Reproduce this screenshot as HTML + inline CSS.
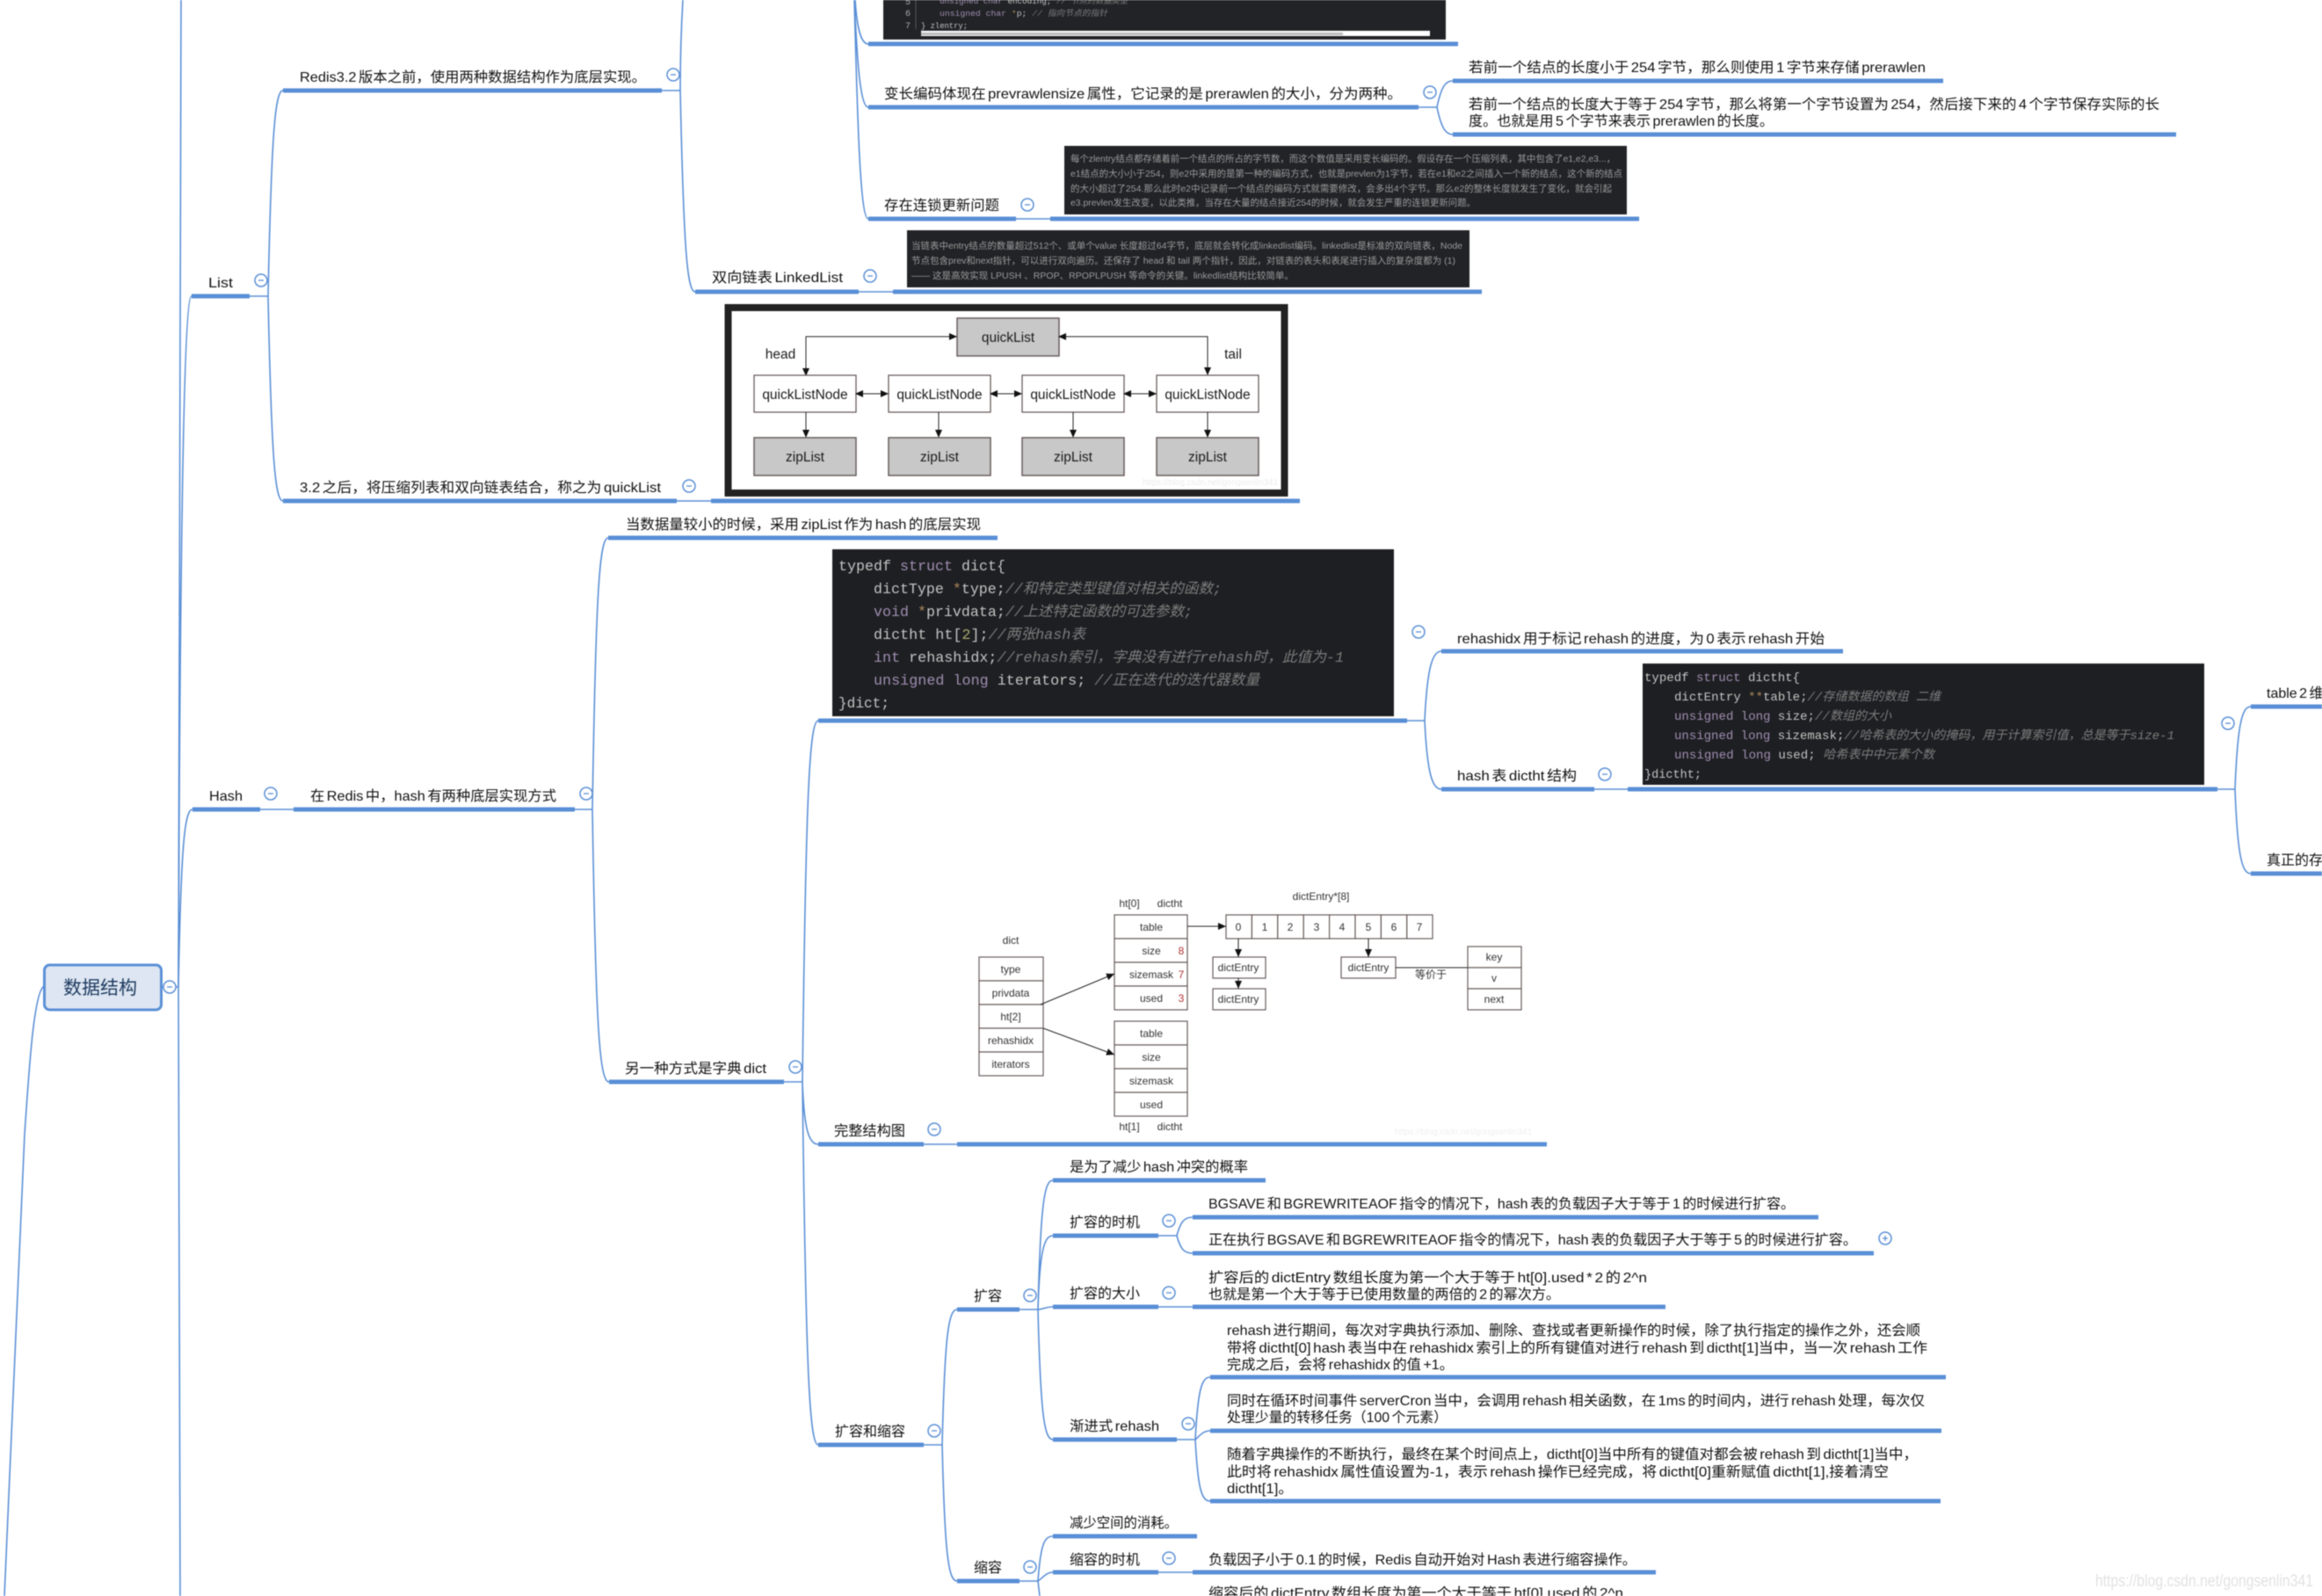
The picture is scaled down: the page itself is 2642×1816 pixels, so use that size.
<!DOCTYPE html>
<html>
<head>
<meta charset="utf-8">
<title>数据结构</title>
<style>
html,body{margin:0;padding:0;background:#fff;width:2642px;height:1816px;overflow:hidden}
svg{display:block;filter:blur(.5px)}
text{font-family:"Liberation Sans","Noto Sans CJK SC",sans-serif;fill:#111;font-size:16px;word-spacing:-2px}
.l{fill:none;stroke:#5a8fd6;stroke-width:1.6}
.b{fill:none;stroke:#5a8fd6;stroke-width:5}
.d{fill:#222326}
.s{font-size:10.5px;fill:#9b9b9b;word-spacing:0}
.m{font-family:"Liberation Mono","Noto Sans CJK SC",monospace;fill:#c4c4c4;font-size:16.5px;word-spacing:0}
.n{font-size:14px}
.k{fill:#a08eb2}
.c{fill:#7c7c7c;font-style:italic}
.o{fill:#a8875a}
.y{fill:#a9a96e}
.q{font-size:15.5px;fill:#1a1a1a;text-anchor:middle;word-spacing:0}
.e{font-size:12px;fill:#333;text-anchor:middle;word-spacing:0}
.r{fill:#c8c8c8;stroke:#6a5c5c;stroke-width:1.5}
.w{fill:#fff;stroke:#6a5c5c;stroke-width:1.3}
.a{fill:none;stroke:#222;stroke-width:1}
</style>
</head>
<body>
<svg width="2642" height="1816" viewBox="0 0 2642 1816" xmlns="http://www.w3.org/2000/svg">
<defs>
<g id="c"><circle r="7" fill="#fff" stroke="#5a8fd6" stroke-width="1.5"/><path d="M-3 0H3" stroke="#5a8fd6" stroke-width="1.3"/></g>
<g id="p"><circle r="7" fill="#fff" stroke="#5a8fd6" stroke-width="1.5"/><path d="M-3 0H3M0 -3V3" stroke="#5a8fd6" stroke-width="1.3"/></g>
<marker id="ar" markerUnits="userSpaceOnUse" markerWidth="10" markerHeight="8" refX="9" refY="4" orient="auto"><path d="M0 0L9 4L0 8Z" fill="#111"/></marker>
<marker id="as" markerUnits="userSpaceOnUse" markerWidth="10" markerHeight="8" refX="1" refY="4" orient="auto"><path d="M9 0L0 4L9 8Z" fill="#111"/></marker>
</defs>
<rect width="2642" height="1816" fill="#fff"/>

<!-- thin connectors -->
<path class="l" d="M184 1123H203M203 1123L206 0M203 1123L205 1816"/>
<path class="l" d="M203 1123C205 560 210 337 218 337M203 1123C206 962 210 921 219 921"/>
<path class="l" d="M50 1122C38 1130 33 1220 28 1290L5 1816"/>
<path class="l" d="M284 337H305M305 337C309 150 313 103 322 103M305 337C309 523 313 570 322 570"/>
<path class="l" d="M753 103H774M774 103Q774 50 777 0M774 103C778 286 782 332 791 332"/>
<path class="l" d="M973 0C975 30 979 50 988 50M972 0C975 60 978 122 988 122M972 0C976 150 979 249 988 249"/>
<path class="l" d="M1614 122H1635M1635 122C1640 98 1645 92 1653 92M1635 122C1640 146 1645 153 1653 153"/>
<path class="l" d="M1156 249H1195M977 332H1016M770 570H809M296 921H334"/>
<path class="l" d="M654 921H674M674 921C678 674 682 612 692 612M674 921C678 1169 682 1231 693 1231"/>
<path class="l" d="M892 1231H913M913 1231C917 902 921 820 931 820M913 1231C915 1288 921 1302 931 1302M913 1231C917 1561 921 1644 931 1644"/>
<path class="l" d="M1601 820H1621M1621 820C1624 758 1630 741 1640 741M1621 820C1624 882 1630 898 1640 898"/>
<path class="l" d="M1814 898H1852M2523 898H2543M2543 898C2546 823 2551 804 2561 804M2543 898C2546 975 2551 994 2561 994"/>
<path class="l" d="M1051 1302H1089"/>
<path class="l" d="M1051 1644H1072M1072 1644C1075 1521 1079 1490 1089 1490M1072 1644C1075 1768 1079 1799 1089 1799"/>
<path class="l" d="M1160 1490H1181M1181 1490C1184 1372 1188 1343 1198 1343M1181 1490C1183 1423 1188 1406 1198 1406M1181 1490C1186 1490 1190 1487 1198 1487M1181 1490C1184 1608 1188 1638 1198 1638"/>
<path class="l" d="M1318 1406H1339M1339 1406C1343 1391 1347 1385 1357 1385M1339 1406C1343 1421 1347 1426 1357 1426"/>
<path class="l" d="M1318 1487H1357"/>
<path class="l" d="M1339 1638H1360M1360 1638C1363 1582 1367 1567 1377 1567M1360 1638C1364 1635 1368 1628 1377 1628M1360 1638C1363 1694 1367 1708 1377 1708"/>
<path class="l" d="M1160 1799H1181M1181 1799C1184 1758 1188 1748 1198 1748M1181 1799C1186 1796 1190 1789 1198 1789M1181 1799L1183 1816"/>
<path class="l" d="M1318 1789H1357"/>

<!-- bars -->
<path class="b" d="M218 337H284M322 103H753M322 570H770M809 570H1479M791 332H977M1016 332H1686"/>
<path class="b" d="M988 50H1659M988 122H1614M988 249H1156M1195 249H1865M1653 92H2211M1653 153H2476"/>
<path class="b" d="M219 921H296M334 921H654M692 612H1135M693 1231H892M931 820H1601M931 1302H1051M1089 1302H1760M931 1644H1051"/>
<path class="b" d="M1640 741H2097M1640 898H1814M1852 898H2523M2561 804H2642M2561 994H2642"/>
<path class="b" d="M1089 1490H1160M1089 1799H1160M1198 1343H1440M1198 1406H1318M1198 1487H1318M1357 1487H1895M1198 1638H1339M1357 1385H2069M1357 1426H2132"/>
<path class="b" d="M1377 1567H2214M1377 1628H2209M1377 1708H2208M1198 1748H1362M1198 1789H1318M1357 1789H1884"/>

<!-- root -->
<rect x="50.5" y="1098" width="133" height="51" rx="6" fill="#dde6f2" stroke="#5a8fd6" stroke-width="3"/>
<text x="72" y="1131" style="font-size:21px;fill:#1d3a5f" textLength="84" lengthAdjust="spacingAndGlyphs">数据结构</text>

<!-- left column labels -->
<text x="237" y="327" textLength="28" lengthAdjust="spacingAndGlyphs">List</text>
<text x="238" y="911" textLength="38" lengthAdjust="spacingAndGlyphs">Hash</text>
<text x="341" y="93" textLength="394" lengthAdjust="spacingAndGlyphs">Redis3.2 版本之前，使用两种数据结构作为底层实现。</text>
<text x="341" y="560" textLength="411" lengthAdjust="spacingAndGlyphs">3.2 之后，将压缩列表和双向链表结合，称之为 quickList</text>
<text x="353" y="911" textLength="280" lengthAdjust="spacingAndGlyphs">在 Redis 中，hash 有两种底层实现方式</text>
<text x="810" y="321" textLength="149" lengthAdjust="spacingAndGlyphs">双向链表 LinkedList</text>
<text x="712" y="602" textLength="404" lengthAdjust="spacingAndGlyphs">当数据量较小的时候，采用 zipList 作为 hash 的底层实现</text>
<text x="711" y="1221" textLength="161" lengthAdjust="spacingAndGlyphs">另一种方式是字典 dict</text>

<!-- top code block -->
<rect class="d" x="1005" y="0" width="640" height="45"/>
<path d="M1042 0V33" stroke="#555" stroke-width="1"/>
<text x="1030" y="5" style="font-family:'Liberation Mono',monospace;font-size:10px;fill:#aaa">5</text>
<text x="1030" y="18" style="font-family:'Liberation Mono',monospace;font-size:10px;fill:#aaa">6</text>
<text x="1030" y="32" style="font-family:'Liberation Mono',monospace;font-size:10px;fill:#aaa">7</text>
<text class="m" x="1069" y="4" style="font-size:9.5px" textLength="214" lengthAdjust="spacingAndGlyphs"><tspan class="k">unsigned char</tspan> encoding; <tspan class="c">// 节点的数据类型</tspan></text>
<text class="m" x="1069" y="18" style="font-size:9.5px" textLength="191" lengthAdjust="spacingAndGlyphs"><tspan class="k">unsigned char</tspan> <tspan class="o">*</tspan>p;   <tspan class="c">// 指向节点的指针</tspan></text>
<text class="m" x="1048" y="32" style="font-size:9.5px" textLength="53" lengthAdjust="spacingAndGlyphs">} zlentry;</text>
<rect x="1048" y="35" width="579" height="6" fill="#fff"/>
<rect x="1048" y="37" width="480" height="3" fill="#bbb"/>

<!-- 变长编码 -->
<text x="1006" y="112" textLength="589" lengthAdjust="spacingAndGlyphs">变长编码体现在 prevrawlensize 属性，它记录的是 prerawlen 的大小，分为两种。</text>
<text x="1671" y="82" textLength="520" lengthAdjust="spacingAndGlyphs">若前一个结点的长度小于 254 字节，那么则使用 1 字节来存储 prerawlen</text>
<text x="1671" y="124" textLength="786" lengthAdjust="spacingAndGlyphs">若前一个结点的长度大于等于 254 字节，那么将第一个字节设置为 254，然后接下来的 4 个字节保存实际的长</text>
<text x="1671" y="143" textLength="347" lengthAdjust="spacingAndGlyphs">度。也就是用 5 个字节来表示 prerawlen 的长度。</text>
<text x="1006" y="239" textLength="131" lengthAdjust="spacingAndGlyphs">存在连锁更新问题</text>

<!-- chained update box -->
<rect class="d" x="1211" y="166" width="640" height="78"/>
<text class="s" x="1218" y="184" textLength="620" lengthAdjust="spacingAndGlyphs">每个zlentry结点都存储着前一个结点的所占的字节数，而这个数值是采用变长编码的。假设存在一个压缩列表，其中包含了e1,e2,e3...，</text>
<text class="s" x="1218" y="201" textLength="628" lengthAdjust="spacingAndGlyphs">e1结点的大小小于254，则e2中采用的是第一种的编码方式，也就是prevlen为1字节，若在e1和e2之间插入一个新的结点，这个新的结点</text>
<text class="s" x="1218" y="218" textLength="616" lengthAdjust="spacingAndGlyphs">的大小超过了254.那么此时e2中记录前一个结点的编码方式就需要修改，会多出4个字节。那么e2的整体长度就发生了变化，就会引起</text>
<text class="s" x="1218" y="234" textLength="461" lengthAdjust="spacingAndGlyphs">e3.prevlen发生改变，以此类推，当存在大量的结点接近254的时候，就会发生严重的连锁更新问题。</text>

<!-- linkedlist box -->
<rect class="d" x="1032" y="262" width="640" height="65"/>
<text class="s" x="1037" y="283" textLength="627" lengthAdjust="spacingAndGlyphs">当链表中entry结点的数量超过512个、或单个value 长度超过64字节，底层就会转化成linkedlist编码。linkedlist是标准的双向链表，Node</text>
<text class="s" x="1037" y="300" textLength="619" lengthAdjust="spacingAndGlyphs">节点包含prev和next指针，可以进行双向遍历。还保存了 head 和 tail 两个指针，因此，对链表的表头和表尾进行插入的复杂度都为 (1)</text>
<text class="s" x="1037" y="317" textLength="435" lengthAdjust="spacingAndGlyphs">—— 这是高效实现 LPUSH 、RPOP、RPOPLPUSH 等命令的关键。linkedlist结构比较简单。</text>

<!-- quicklist figure -->
<rect x="828.5" y="350" width="633" height="211" fill="#fff" stroke="#222" stroke-width="8"/>
<rect class="r" x="1089" y="362" width="116" height="43"/>
<text class="q" x="1147" y="389">quickList</text>
<path class="a" d="M917 427V383H1089" marker-start="url(#as)" marker-end="url(#ar)"/>
<path class="a" d="M1205 383H1374V427" marker-start="url(#as)" marker-end="url(#ar)"/>
<text class="q" x="888" y="408">head</text>
<text class="q" x="1403" y="408">tail</text>
<rect class="w" x="858" y="427" width="116" height="42"/>
<rect class="w" x="1011" y="427" width="116" height="42"/>
<rect class="w" x="1163" y="427" width="116" height="42"/>
<rect class="w" x="1316" y="427" width="116" height="42"/>
<text class="q" x="916" y="454">quickListNode</text>
<text class="q" x="1069" y="454">quickListNode</text>
<text class="q" x="1221" y="454">quickListNode</text>
<text class="q" x="1374" y="454">quickListNode</text>
<path class="a" d="M974 448H1011" marker-start="url(#as)" marker-end="url(#ar)"/>
<path class="a" d="M1127 448H1163" marker-start="url(#as)" marker-end="url(#ar)"/>
<path class="a" d="M1279 448H1316" marker-start="url(#as)" marker-end="url(#ar)"/>
<path class="a" d="M917 469V498" marker-end="url(#ar)"/>
<path class="a" d="M1068 469V498" marker-end="url(#ar)"/>
<path class="a" d="M1221 469V498" marker-end="url(#ar)"/>
<path class="a" d="M1374 469V498" marker-end="url(#ar)"/>
<rect class="r" x="858" y="498" width="116" height="43"/>
<rect class="r" x="1011" y="498" width="116" height="43"/>
<rect class="r" x="1163" y="498" width="116" height="43"/>
<rect class="r" x="1316" y="498" width="116" height="43"/>
<text class="q" x="916" y="525">zipList</text>
<text class="q" x="1069" y="525">zipList</text>
<text class="q" x="1221" y="525">zipList</text>
<text class="q" x="1374" y="525">zipList</text>
<text x="1300" y="552" style="font-size:10px;fill:#ececec;word-spacing:0" textLength="154" lengthAdjust="spacingAndGlyphs">https://blog.csdn.net/gongsenlin341</text>

<!-- dict code box -->
<rect x="947" y="625" width="639" height="190" fill="#1e1f22"/>
<text class="m" x="954" y="649" textLength="190" lengthAdjust="spacingAndGlyphs">typedf <tspan class="k">struct</tspan> dict{</text>
<text class="m" x="994" y="675" textLength="396" lengthAdjust="spacingAndGlyphs">dictType <tspan class="o">*</tspan>type;<tspan class="c">//和特定类型键值对相关的函数;</tspan></text>
<text class="m" x="994" y="701" textLength="363" lengthAdjust="spacingAndGlyphs"><tspan class="k">void</tspan> <tspan class="o">*</tspan>privdata;<tspan class="c">//上述特定函数的可选参数;</tspan></text>
<text class="m" x="994" y="727" textLength="241" lengthAdjust="spacingAndGlyphs">dictht ht[<tspan class="y">2</tspan>];<tspan class="c">//两张hash表</tspan></text>
<text class="m" x="994" y="753" textLength="535" lengthAdjust="spacingAndGlyphs"><tspan class="k">int</tspan> rehashidx;<tspan class="c">//rehash索引，字典没有进行rehash时，此值为-1</tspan></text>
<text class="m" x="994" y="779" textLength="439" lengthAdjust="spacingAndGlyphs"><tspan class="k">unsigned long</tspan> iterators; <tspan class="c">//正在迭代的迭代器数量</tspan></text>
<text class="m" x="954" y="805" textLength="58" lengthAdjust="spacingAndGlyphs">}dict;</text>

<text x="1658" y="732" textLength="418" lengthAdjust="spacingAndGlyphs">rehashidx 用于标记 rehash 的进度，为 0 表示 rehash 开始</text>
<text x="1658" y="888" textLength="136" lengthAdjust="spacingAndGlyphs">hash 表 dictht 结构</text>

<!-- dictht box -->
<rect x="1869" y="755" width="639" height="138" fill="#1e1f22"/>
<text class="m n" x="1871" y="775" textLength="177" lengthAdjust="spacingAndGlyphs">typedf <tspan class="k">struct</tspan> dictht{</text>
<text class="m n" x="1905" y="797" textLength="303" lengthAdjust="spacingAndGlyphs">dictEntry <tspan class="o">**</tspan>table;<tspan class="c">//存储数据的数组 二维</tspan></text>
<text class="m n" x="1905" y="819" textLength="247" lengthAdjust="spacingAndGlyphs"><tspan class="k">unsigned long</tspan> size;<tspan class="c">//数组的大小</tspan></text>
<text class="m n" x="1905" y="841" textLength="569" lengthAdjust="spacingAndGlyphs"><tspan class="k">unsigned long</tspan> sizemask;<tspan class="c">//哈希表的大小的掩码，用于计算索引值，总是等于size-1</tspan></text>
<text class="m n" x="1905" y="863" textLength="296" lengthAdjust="spacingAndGlyphs"><tspan class="k">unsigned long</tspan> used; <tspan class="c">哈希表中中元素个数</tspan></text>
<text class="m n" x="1871" y="885" textLength="65" lengthAdjust="spacingAndGlyphs">}dictht;</text>

<text x="2579" y="794">table 2 维数组</text>
<text x="2579" y="984">真正的存储数据</text>

<!-- dict figure -->
<text x="949" y="1292" textLength="81" lengthAdjust="spacingAndGlyphs">完整结构图</text>
<text class="e" x="1150" y="1074">dict</text>
<g fill="#fff" stroke="#6a5c5c" stroke-width="1.2">
<rect x="1114" y="1089" width="73" height="27"/><rect x="1114" y="1116" width="73" height="27"/><rect x="1114" y="1143" width="73" height="27"/><rect x="1114" y="1170" width="73" height="27"/><rect x="1114" y="1197" width="73" height="27"/>
<rect x="1268" y="1041" width="83" height="27"/><rect x="1268" y="1068" width="83" height="27"/><rect x="1268" y="1095" width="83" height="27"/><rect x="1268" y="1122" width="83" height="27"/>
<rect x="1268" y="1162" width="83" height="27"/><rect x="1268" y="1189" width="83" height="27"/><rect x="1268" y="1216" width="83" height="27"/><rect x="1268" y="1243" width="83" height="27"/>
<rect x="1395" y="1041" width="29.4" height="27"/><rect x="1424.4" y="1041" width="29.4" height="27"/><rect x="1453.8" y="1041" width="29.4" height="27"/><rect x="1483.2" y="1041" width="29.4" height="27"/><rect x="1512.6" y="1041" width="29.4" height="27"/><rect x="1542" y="1041" width="29.4" height="27"/><rect x="1571.4" y="1041" width="29.4" height="27"/><rect x="1600.8" y="1041" width="29.2" height="27"/>
<rect x="1380" y="1089" width="60" height="24"/><rect x="1380" y="1125" width="60" height="24"/><rect x="1526" y="1089" width="62" height="24"/>
<rect x="1670" y="1077" width="61" height="24"/><rect x="1670" y="1101" width="61" height="24"/><rect x="1670" y="1125" width="61" height="24"/>
</g>
<text class="e" x="1150" y="1107">type</text>
<text class="e" x="1150" y="1134">privdata</text>
<text class="e" x="1150" y="1161">ht[2]</text>
<text class="e" x="1150" y="1188">rehashidx</text>
<text class="e" x="1150" y="1215">iterators</text>
<text class="e" x="1285" y="1032">ht[0]</text>
<text class="e" x="1331" y="1032">dictht</text>
<text class="e" x="1310" y="1059">table</text>
<text class="e" x="1310" y="1086">size</text>
<text class="e" x="1310" y="1113">sizemask</text>
<text class="e" x="1310" y="1140">used</text>
<text class="e" x="1344" y="1086" style="fill:#b03030">8</text>
<text class="e" x="1344" y="1113" style="fill:#b03030">7</text>
<text class="e" x="1344" y="1140" style="fill:#b03030">3</text>
<text class="e" x="1310" y="1180">table</text>
<text class="e" x="1310" y="1207">size</text>
<text class="e" x="1310" y="1234">sizemask</text>
<text class="e" x="1310" y="1261">used</text>
<text class="e" x="1285" y="1286">ht[1]</text>
<text class="e" x="1331" y="1286">dictht</text>
<text class="e" x="1503" y="1024">dictEntry*[8]</text>
<text class="e" x="1409" y="1059">0</text>
<text class="e" x="1439" y="1059">1</text>
<text class="e" x="1468" y="1059">2</text>
<text class="e" x="1498" y="1059">3</text>
<text class="e" x="1527" y="1059">4</text>
<text class="e" x="1557" y="1059">5</text>
<text class="e" x="1586" y="1059">6</text>
<text class="e" x="1615" y="1059">7</text>
<text class="e" x="1409" y="1105">dictEntry</text>
<text class="e" x="1409" y="1141">dictEntry</text>
<text class="e" x="1557" y="1105">dictEntry</text>
<text class="e" x="1628" y="1113">等价于</text>
<text class="e" x="1700" y="1093">key</text>
<text class="e" x="1700" y="1117">v</text>
<text class="e" x="1700" y="1141">next</text>
<path class="a" d="M1351 1054H1395" marker-end="url(#ar)"/>
<path class="a" d="M1409 1068V1089" marker-end="url(#ar)"/>
<path class="a" d="M1409 1113V1125" marker-end="url(#ar)"/>
<path class="a" d="M1557 1068V1089" marker-end="url(#ar)"/>
<path class="a" d="M1588 1101H1670"/>
<path class="a" d="M1184 1143L1268 1108" marker-end="url(#ar)"/>
<path class="a" d="M1187 1170L1268 1200" marker-end="url(#ar)"/>
<text x="1587" y="1291" style="font-size:10px;fill:#efefef;word-spacing:0" textLength="156" lengthAdjust="spacingAndGlyphs">https://blog.csdn.net/gongsenlin341</text>

<!-- 扩容和缩容 -->
<text x="950" y="1634" textLength="80" lengthAdjust="spacingAndGlyphs">扩容和缩容</text>
<text x="1108" y="1480" textLength="32" lengthAdjust="spacingAndGlyphs">扩容</text>
<text x="1108" y="1789" textLength="32" lengthAdjust="spacingAndGlyphs">缩容</text>
<text x="1217" y="1333" textLength="203" lengthAdjust="spacingAndGlyphs">是为了减少 hash 冲突的概率</text>
<text x="1217" y="1396" textLength="80" lengthAdjust="spacingAndGlyphs">扩容的时机</text>
<text x="1217" y="1477" textLength="80" lengthAdjust="spacingAndGlyphs">扩容的大小</text>
<text x="1217" y="1628" textLength="102" lengthAdjust="spacingAndGlyphs">渐进式 rehash</text>
<text x="1217" y="1738" textLength="123" lengthAdjust="spacingAndGlyphs">减少空间的消耗。</text>
<text x="1217" y="1780" textLength="80" lengthAdjust="spacingAndGlyphs">缩容的时机</text>
<text x="1375" y="1375" textLength="667" lengthAdjust="spacingAndGlyphs">BGSAVE 和 BGREWRITEAOF 指令的情况下，hash 表的负载因子大于等于 1 的时候进行扩容。</text>
<text x="1375" y="1416" textLength="738" lengthAdjust="spacingAndGlyphs">正在执行 BGSAVE 和 BGREWRITEAOF 指令的情况下，hash 表的负载因子大于等于 5 的时候进行扩容。</text>
<text x="1375" y="1459" textLength="499" lengthAdjust="spacingAndGlyphs">扩容后的 dictEntry 数组长度为第一个大于等于 ht[0].used * 2 的 2^n</text>
<text x="1375" y="1478" textLength="400" lengthAdjust="spacingAndGlyphs">也就是第一个大于等于已使用数量的两倍的 2 的幂次方。</text>
<text x="1396" y="1519" textLength="789" lengthAdjust="spacingAndGlyphs">rehash 进行期间，每次对字典执行添加、删除、查找或者更新操作的时候，除了执行指定的操作之外，还会顺</text>
<text x="1396" y="1539" textLength="797" lengthAdjust="spacingAndGlyphs">带将 dictht[0] hash 表当中在 rehashidx 索引上的所有键值对进行 rehash 到 dictht[1]当中，当一次 rehash 工作</text>
<text x="1396" y="1558" textLength="258" lengthAdjust="spacingAndGlyphs">完成之后，会将 rehashidx 的值 +1。</text>
<text x="1396" y="1599" textLength="794" lengthAdjust="spacingAndGlyphs">同时在循环时间事件 serverCron 当中，会调用 rehash 相关函数，在 1ms 的时间内，进行 rehash 处理，每次仅</text>
<text x="1396" y="1618" textLength="251" lengthAdjust="spacingAndGlyphs">处理少量的转移任务（100 个元素）</text>
<text x="1396" y="1660" textLength="786" lengthAdjust="spacingAndGlyphs">随着字典操作的不断执行，最终在某个时间点上，dictht[0]当中所有的键值对都会被 rehash 到 dictht[1]当中，</text>
<text x="1396" y="1680" textLength="753" lengthAdjust="spacingAndGlyphs">此时将 rehashidx 属性值设置为-1，表示 rehash 操作已经完成，将 dictht[0]重新赋值 dictht[1],接着清空</text>
<text x="1396" y="1699" textLength="75" lengthAdjust="spacingAndGlyphs">dictht[1]。</text>
<text x="1375" y="1780" textLength="487" lengthAdjust="spacingAndGlyphs">负载因子小于 0.1 的时候，Redis 自动开始对 Hash 表进行缩容操作。</text>
<text x="1375" y="1818" textLength="472" lengthAdjust="spacingAndGlyphs">缩容后的 dictEntry 数组长度为第一个大于等于 ht[0].used 的 2^n</text>
<text x="2384" y="1805" style="font-size:19px;fill:#e2e2e2;word-spacing:0" textLength="248" lengthAdjust="spacingAndGlyphs">https://blog.csdn.net/gongsenlin341</text>

<!-- collapse circles -->
<use href="#c" x="193" y="1123"/>
<use href="#c" x="297" y="319"/>
<use href="#c" x="766" y="85"/>
<use href="#c" x="784" y="553"/>
<use href="#c" x="990" y="314"/>
<use href="#c" x="1627" y="105"/>
<use href="#c" x="1169" y="233"/>
<use href="#c" x="308" y="903"/>
<use href="#c" x="667" y="903"/>
<use href="#c" x="905" y="1214"/>
<use href="#c" x="1614" y="719"/>
<use href="#c" x="1826" y="881"/>
<use href="#c" x="2535" y="823"/>
<use href="#c" x="1063" y="1285"/>
<use href="#c" x="1063" y="1628"/>
<use href="#c" x="1172" y="1474"/>
<use href="#c" x="1172" y="1783"/>
<use href="#c" x="1330" y="1389"/>
<use href="#c" x="1330" y="1471"/>
<use href="#c" x="1352" y="1620"/>
<use href="#c" x="1330" y="1773"/>
<use href="#p" x="2145" y="1409"/>
</svg>
</body>
</html>
